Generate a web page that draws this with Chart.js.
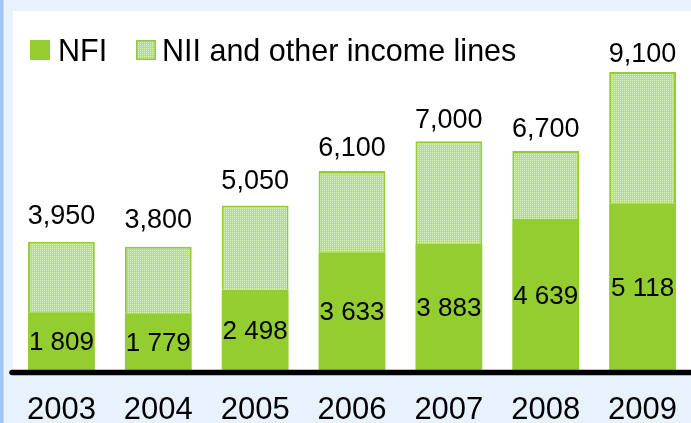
<!DOCTYPE html>
<html>
<head>
<meta charset="utf-8">
<script src="https://cdn.jsdelivr.net/npm/chart.js@4.4.0/dist/chart.umd.min.js"></script>
<style>
  html, body { margin: 0; padding: 0; background: #e8f2fc; }
  #wrap { width: 691px; height: 423px; }
</style>
</head>
<body>
<div id="wrap"><canvas id="myChart" width="691" height="423"></canvas></div>
<script>
const years = ['2003', '2004', '2005', '2006', '2007', '2008', '2009'];
const nfiValues = [1809, 1779, 2498, 3633, 3883, 4639, 5118];
const totalValues = [3950, 3800, 5050, 6100, 7000, 6700, 9100];
const seriesNames = ['NFI', 'NII and other income lines'];

const FONT = '"Liberation Sans", Arial, sans-serif';
const GREEN = '#94cd2f';

// dotted light green fill like the original: one pale dot per 2x2 cell
function makePattern() {
  const c = document.createElement('canvas');
  c.width = 4; c.height = 4;
  const g = c.getContext('2d');
  const img = g.createImageData(4, 4);
  for (let y = 0; y < 4; y++) {
    for (let x = 0; x < 4; x++) {
      const k = (y * 4 + x) * 4;
      const dot = (x % 2 === 0) && (y % 2 === 0);
      img.data[k] = dot ? 222 : 184;
      img.data[k + 1] = dot ? 240 : 222;
      img.data[k + 2] = dot ? 192 : 124;
      img.data[k + 3] = 255;
    }
  }
  g.putImageData(img, 0, 0);
  return g.createPattern(c, 'repeat');
}
const dots = makePattern();

const otherValues = totalValues.map((t, i) => t - nfiValues[i]);

const decor = {
  id: 'decor',
  beforeDraw(chart) {
    const ctx = chart.ctx, a = chart.chartArea;
    ctx.save();
    ctx.fillStyle = '#e8f2fc';
    ctx.fillRect(0, 0, chart.width, chart.height);
    ctx.fillStyle = '#9fc6f4';
    ctx.fillRect(0, 0, 3, chart.height);
    ctx.fillStyle = '#c6ddf8';
    ctx.fillRect(3, 0, 1, chart.height);
    ctx.fillStyle = '#ffffff';
    ctx.fillRect(13, a.top, chart.width - 13, a.bottom - a.top);
    ctx.restore();
  },
  afterDatasetsDraw(chart) {
    const ctx = chart.ctx, a = chart.chartArea;
    ctx.save();
    // axis line
    ctx.strokeStyle = '#000';
    ctx.lineWidth = 5.5;
    ctx.lineCap = 'round';
    ctx.beginPath();
    ctx.moveTo(12, a.bottom + 0.5);
    ctx.lineTo(chart.width + 5, a.bottom + 0.5);
    ctx.stroke();

    ctx.fillStyle = '#000';
    ctx.textAlign = 'center';
    // NFI labels in the middle of the solid part
    ctx.font = '26px ' + FONT;
    ctx.textBaseline = 'middle';
    chart.getDatasetMeta(0).data.forEach((bar, i) => {
      const txt = nfiValues[i].toLocaleString('en-US').replace(',', ' ');
      ctx.fillText(txt, bar.x, (bar.y + bar.base) / 2 + 1);
    });
    // totals above the bars
    ctx.font = '27px ' + FONT;
    ctx.textBaseline = 'alphabetic';
    chart.getDatasetMeta(2).data.forEach((pt, i) => {
      ctx.fillText(totalValues[i].toLocaleString('en-US'), pt.x, pt.y);
    });

    // legend
    ctx.textAlign = 'left';
    ctx.font = '30.5px ' + FONT;
    ctx.fillStyle = GREEN;
    ctx.fillRect(30, 40, 20, 20);
    ctx.fillStyle = '#000';
    ctx.fillText(chart.data.datasets[0].label, 58, 61);
    ctx.fillStyle = dots;
    ctx.fillRect(136, 40, 20, 20);
    ctx.strokeStyle = GREEN;
    ctx.lineWidth = 1.5;
    ctx.lineCap = 'butt';
    ctx.strokeRect(136.75, 40.75, 18.5, 18.5);
    ctx.fillStyle = '#000';
    ctx.fillText(chart.data.datasets[1].label, 162, 61);
    ctx.restore();
  }
};

new Chart(document.getElementById('myChart'), {
  type: 'bar',
  data: {
    labels: years,
    datasets: [
      {
        label: seriesNames[0],
        data: nfiValues,
        backgroundColor: GREEN,
        borderWidth: 0,
        barPercentage: 0.69,
        categoryPercentage: 1
      },
      {
        label: seriesNames[1],
        data: otherValues,
        backgroundColor: dots,
        borderColor: GREEN,
        borderWidth: { top: 2, left: 2, right: 2, bottom: 0 },
        borderSkipped: false,
        barPercentage: 0.69,
        categoryPercentage: 1
      },
      {
        // invisible series carrying the total labels
        type: 'line',
        label: 'Total',
        data: totalValues,
        yAxisID: 'yTotal',
        showLine: false,
        pointRadius: 0
      }
    ]
  },
  options: {
    responsive: false,
    animation: false,
    devicePixelRatio: 1,
    layout: { padding: { top: 11, left: 13, right: 0, bottom: 0 } },
    plugins: {
      legend: { display: false },
      tooltip: { enabled: false }
    },
    scales: {
      x: {
        stacked: true,
        grid: { display: false },
        border: { display: false },
        ticks: {
          color: '#000',
          font: { family: FONT, size: 31, lineHeight: 0.9 },
          padding: 17,
          maxRotation: 0,
          autoSkip: false
        },
        afterFit(axis) {
          axis.height = 51;
          axis.paddingLeft = 0;
          axis.paddingRight = 0;
        }
      },
      y: {
        stacked: true,
        display: false,
        min: 0,
        max: 10950
      },
      yTotal: {
        display: false,
        min: -780,
        max: 10720
      }
    }
  },
  plugins: [decor]
});
</script>
</body>
</html>
